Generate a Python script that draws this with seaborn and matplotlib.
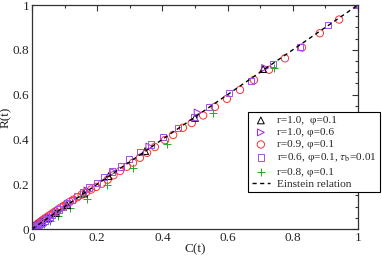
import matplotlib
matplotlib.use("Agg")
import matplotlib.pyplot as plt
import seaborn as sns
import pandas as pd
from matplotlib.ticker import MultipleLocator, FixedFormatter, FixedLocator

# ---------------- data ----------------
C_bk = [1.0, 0.709, 0.500, 0.347, 0.235, 0.160, 0.108, 0.073, 0.049, 0.033, 0.022, 0.014, 0.009]
R_bk = [1.0, 0.714, 0.496, 0.348, 0.236, 0.158, 0.106, 0.071, 0.047, 0.031, 0.020, 0.013, 0.008]

C_vt = [1.0, 0.715, 0.508, 0.360, 0.250, 0.170, 0.115, 0.078, 0.052, 0.035, 0.023, 0.015, 0.009, 0.005]
R_vt = [1.0, 0.719, 0.520, 0.368, 0.255, 0.172, 0.115, 0.076, 0.050, 0.033, 0.021, 0.013, 0.008, 0.004]

C_red = [1.0, 0.942, 0.883, 0.828, 0.776, 0.727, 0.681, 0.638, 0.598, 0.561, 0.525, 0.490,
         0.463, 0.433, 0.408, 0.377, 0.353, 0.331, 0.310, 0.291, 0.270, 0.250, 0.232, 0.214,
         0.197, 0.181, 0.166, 0.152, 0.139, 0.127, 0.116, 0.106, 0.097, 0.088, 0.080, 0.072,
         0.065, 0.058, 0.052, 0.046, 0.041, 0.036, 0.031, 0.027, 0.023, 0.019, 0.016, 0.013,
         0.010, 0.007]
R_red = [1.0, 0.935, 0.874, 0.810, 0.762, 0.711, 0.665, 0.621, 0.581, 0.545, 0.507, 0.473,
         0.452, 0.420, 0.397, 0.366, 0.340, 0.318, 0.296, 0.278, 0.259, 0.240, 0.220, 0.202,
         0.188, 0.176, 0.164, 0.153, 0.142, 0.131, 0.121, 0.112, 0.103, 0.095, 0.087, 0.079,
         0.072, 0.065, 0.059, 0.053, 0.048, 0.043, 0.038, 0.033, 0.029, 0.025, 0.021, 0.018,
         0.014, 0.010]

C_sq = [1.0, 0.908, 0.822, 0.739, 0.672, 0.604, 0.543, 0.497, 0.448, 0.402, 0.365, 0.331,
        0.298, 0.273, 0.245, 0.221, 0.199, 0.175, 0.156, 0.138, 0.122, 0.108, 0.095, 0.083,
        0.072, 0.062, 0.053, 0.045, 0.038, 0.031, 0.025, 0.019, 0.014, 0.009, 0.005]
R_sq = [1.0, 0.911, 0.813, 0.736, 0.661, 0.607, 0.545, 0.500, 0.451, 0.410, 0.378, 0.344,
        0.312, 0.280, 0.257, 0.233, 0.205, 0.185, 0.166, 0.147, 0.130, 0.115, 0.100, 0.087,
        0.075, 0.064, 0.054, 0.045, 0.037, 0.030, 0.023, 0.017, 0.012, 0.007, 0.003]

C_gr = [1.0, 0.742, 0.555, 0.413, 0.310, 0.230, 0.168, 0.117, 0.080, 0.055, 0.037, 0.024, 0.015]
R_gr = [1.0, 0.719, 0.518, 0.379, 0.272, 0.196, 0.134, 0.094, 0.056, 0.037, 0.024, 0.015, 0.009]

einstein_x = [0.0, 1.0]
einstein_y = [0.0, 1.0]

labels = ["r=1.0,  \u03c6=0.1", "r=1.0, \u03c6=0.6", "r=0.9, \u03c6=0.1",
          "r=0.6, \u03c6=0.1, $\\tau_{\\mathrm{b}}$=0.01", "r=0.8, \u03c6=0.1", "Einstein relation"]

xticks = [0, 0.2, 0.4, 0.6, 0.8, 1.0]
xtick_labels = ["0", "0.2", "0.4", "0.6", "0.8", "1"]
yticks = [0, 0.2, 0.4, 0.6, 0.8, 1.0]
ytick_labels = ["0", "0.2", "0.4", "0.6", "0.8", "1"]

# ---------------- style ----------------
sns.set_theme(style="white")
plt.rcParams['font.family'] = ['Liberation Serif', 'DejaVu Serif']
plt.rcParams['mathtext.fontset'] = 'stix'

fig = plt.figure(figsize=(3.82, 2.56), dpi=100)
ax = fig.add_axes([32/382, 1-229/256, 326/382, 224/256])

col_bk = "black"
col_vt = "#a020e0"
col_red = "#ff3030"
col_sq = "#a050e8"
col_gr = "#22aa22"
lw = 0.7

sns.scatterplot(x=C_red, y=R_red, ax=ax, marker="o", s=28, color=col_red,
                facecolor="none", edgecolor=col_red, linewidth=lw, label=labels[2])
sns.scatterplot(x=C_gr, y=R_gr, ax=ax, marker="+", s=32, color=col_gr,
                linewidth=lw, label=labels[4])
sns.scatterplot(x=C_bk, y=R_bk, ax=ax, marker="^", s=24, color=col_bk,
                facecolor="none", edgecolor=col_bk, linewidth=lw, label=labels[0])
sns.scatterplot(x=C_vt, y=R_vt, ax=ax, marker=">", s=24, color=col_vt,
                facecolor="none", edgecolor=col_vt, linewidth=lw, label=labels[1])
sns.scatterplot(x=C_sq, y=R_sq, ax=ax, marker="s", s=22, color=col_sq,
                facecolor="none", edgecolor=col_sq, linewidth=lw, label=labels[3])
sns.lineplot(x=einstein_x, y=einstein_y, ax=ax, color="black", linewidth=1.0,
             label=labels[5])
ax.lines[-1].set_linestyle((0, (3, 2.5)))

ax.set_xlim(0, 1)
ax.set_ylim(0, 1)
ax.xaxis.set_major_locator(FixedLocator(xticks))
ax.xaxis.set_major_formatter(FixedFormatter(xtick_labels))
ax.yaxis.set_major_locator(FixedLocator(yticks))
ax.yaxis.set_major_formatter(FixedFormatter(ytick_labels))
ax.xaxis.set_minor_locator(MultipleLocator(0.1))
ax.yaxis.set_minor_locator(MultipleLocator(0.05))
ax.tick_params(which="both", direction="in", top=True, right=True, labelsize=9.5,
               color="#333333", width=0.8, pad=2)
ax.tick_params(which="major", length=4)
ax.tick_params(which="minor", length=2.2)
for sp in ax.spines.values():
    sp.set_color("#333333")
    sp.set_linewidth(0.9)
ax.set_xlabel("C(t)", fontsize=9.5, labelpad=0)
ax.set_ylabel("R(t)", fontsize=9.5)
ax.yaxis.set_label_coords(-0.062, 0.5)

handles, labs = ax.get_legend_handles_labels()
order = [labs.index(l) for l in labels]
leg = ax.legend([handles[i] for i in order], [labs[i] for i in order],
                loc="upper right", bbox_to_anchor=(380/382, 1-112/256),
                bbox_transform=fig.transFigure, fontsize=8.2, frameon=True,
                fancybox=False, edgecolor="black", framealpha=1,
                borderaxespad=0, handlelength=1.6, handletextpad=0.6,
                labelspacing=0.18, borderpad=0.3)
leg.get_frame().set_linewidth(0.8)

fig.savefig("out.png", dpi=100)
